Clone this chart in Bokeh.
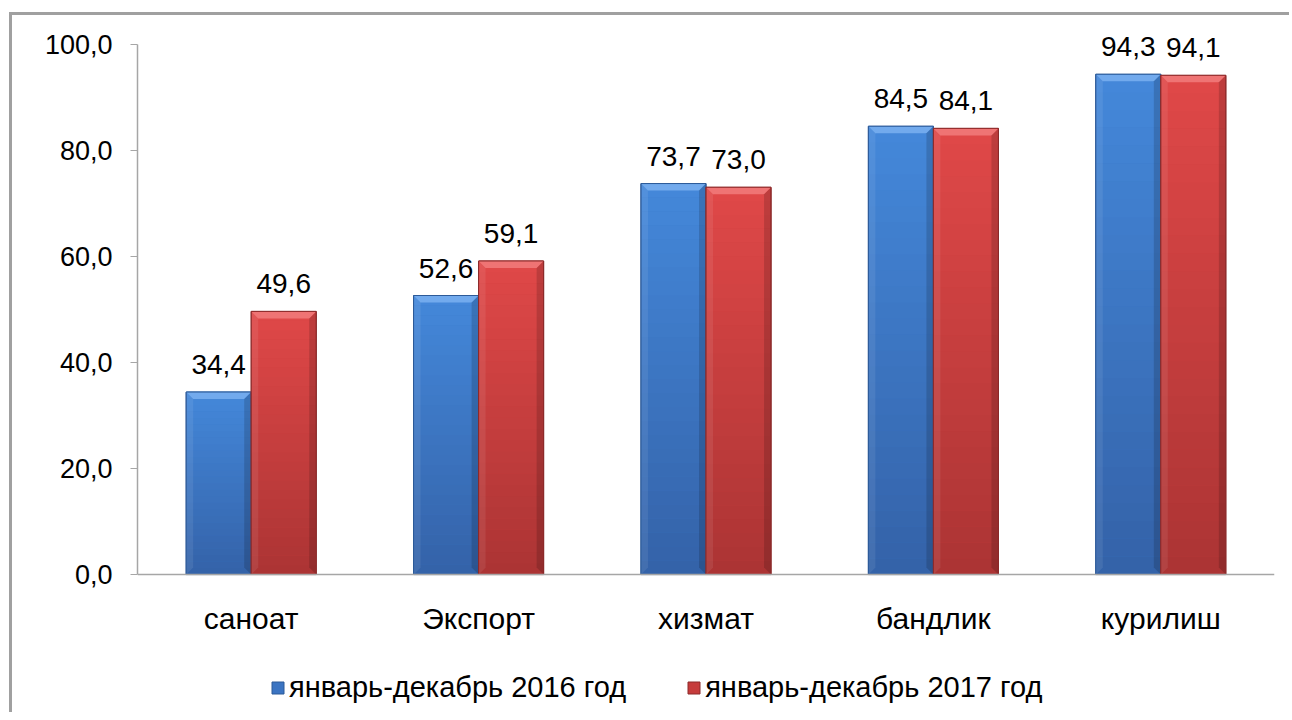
from bokeh.plotting import figure
from bokeh.models import (ColumnDataSource, Range1d, FixedTicker, LabelSet, Legend,
                          LegendItem, Span)
from bokeh.core.properties import value
from bokeh.embed import file_html
from bokeh.resources import INLINE

categories = ["саноат", "Экспорт", "хизмат", "бандлик", "курилиш"]
values_2016 = [34.4, 52.6, 73.7, 84.5, 94.3]
values_2017 = [49.6, 59.1, 73.0, 84.1, 94.1]
series_names = ["январь-декабрь 2016 год", "январь-декабрь 2017 год"]
y_ticks = [0, 20, 40, 60, 80, 100]

FONT = "Liberation Sans"
BAR_W = 0.286
N_SLICES = 28
AXIS_GRAY = "#a6a6a6"

styles = [
    dict(top="#4488da", bottom="#3462a8", mid="#3b74c2", edge="#2c5a98", bevel="#7ab0f0", offset=-BAR_W / 2),
    dict(top="#e04848", bottom="#ab3434", mid="#c63c3c", edge="#8c2a2a", bevel="#f27c7c", offset=BAR_W / 2),
]

# y range extends below 0 and above 100 so that the category labels, the legend
# and the value labels sit inside the plotting frame
p = figure(width=1280, height=700,
           x_range=Range1d(0, len(categories)), y_range=Range1d(-26, 105),
           x_axis_location=None,
           output_backend="svg", toolbar_location=None,
           min_border_left=125, min_border_right=18, min_border_top=2, min_border_bottom=3,
           margin=(12, 0, 0, 9))
p.styles = {"border-left": "3px solid #a0a0a0", "border-top": "3px solid #a0a0a0"}
p.background_fill_color = "white"
p.border_fill_color = "white"
p.outline_line_color = None
p.xgrid.visible = False
p.ygrid.visible = False

ya = p.yaxis[0]
ya.ticker = FixedTicker(ticks=y_ticks)
ya.bounds = (y_ticks[0], y_ticks[-1])
ya.major_label_overrides = {t: f"{t:.1f}".replace(".", ",") for t in y_ticks}
ya.minor_tick_line_color = None
ya.major_tick_in = 0
ya.major_tick_out = 7
ya.major_tick_line_color = AXIS_GRAY
ya.axis_line_color = AXIS_GRAY
ya.axis_line_width = 1.5
ya.major_label_standoff = 18
ya.major_label_text_font = FONT
ya.major_label_text_font_size = "27px"
ya.major_label_text_color = "#000000"

# category axis line at zero
p.add_layout(Span(location=0, dimension="width", line_color=AXIS_GRAY, line_width=1.5))


def lerp(c1, c2, t):
    a = [int(c1[i:i + 2], 16) for i in (1, 3, 5)]
    b = [int(c2[i:i + 2], 16) for i in (1, 3, 5)]
    return "#" + "".join(f"{round(a[k] + (b[k] - a[k]) * t):02x}" for k in range(3))


legend_items = []
px_x = 227.4  # approx pixels per category unit (for bevel sizing)
px_y = 5.305  # approx pixels per value unit
for series, st, name in zip([values_2016, values_2017], styles, series_names):
    xs = [i + 0.5 + st["offset"] for i in range(len(categories))]
    base = p.vbar(x=xs, top=series, bottom=0, width=BAR_W,
                  fill_color=st["mid"], line_color=st["edge"], line_width=1)
    # vertical gradient
    gx, gb, gt, gc = [], [], [], []
    for x, v in zip(xs, series):
        for k in range(N_SLICES):
            gx.append(x)
            gb.append(v * k / N_SLICES)
            gt.append(v * (k + 1) / N_SLICES + 0.05)
            gc.append(lerp(st["bottom"], st["top"], (k + 0.5) / N_SLICES))
    p.vbar(x=gx, bottom=gb, top=gt, width=BAR_W - 0.004, fill_color=gc, line_color=None)
    # bevels
    dx = 7 / px_x
    dy = 7 / px_y
    tx, ty, lx, ly, rx, ry = [], [], [], [], [], []
    for x, v in zip(xs, series):
        l, r = x - BAR_W / 2, x + BAR_W / 2
        tx.append([l, r, r - dx, l + dx]); ty.append([v, v, v - dy, v - dy])
        lx.append([l, l + dx, l + dx, l]); ly.append([v, v - dy, dy, 0])
        rx.append([r, r - dx, r - dx, r]); ry.append([v, v - dy, dy, 0])
    p.patches(tx, ty, fill_color=st["bevel"], fill_alpha=0.85, line_color=None)
    p.patches(lx, ly, fill_color="white", fill_alpha=0.08, line_color=None)
    p.patches(rx, ry, fill_color="black", fill_alpha=0.15, line_color=None)
    p.vbar(x=xs, top=series, bottom=0, width=BAR_W, fill_color=None,
           line_color=st["edge"], line_width=1)
    # data labels
    src = ColumnDataSource(dict(x=xs, y=series,
                                t=[f"{v:.1f}".replace(".", ",") for v in series]))
    p.add_layout(LabelSet(x="x", y="y", text="t", source=src, y_offset=18,
                          text_align="center", text_baseline="alphabetic",
                          text_font=value(FONT), text_font_size=value("28px"),
                          text_color=value("#000000")))
    legend_items.append(LegendItem(label=name, renderers=[base]))

# category labels under the zero line
cat_src = ColumnDataSource(dict(x=[i + 0.5 for i in range(len(categories))],
                                y=[0] * len(categories), t=categories))
p.add_layout(LabelSet(x="x", y="y", text="t", source=cat_src, y_offset=-54,
                      text_align="center", text_baseline="alphabetic",
                      text_font=value(FONT), text_font_size=value("30px"),
                      text_color=value("#000000")))

legend = Legend(items=legend_items, orientation="horizontal", location=(133, 8),
                glyph_width=15, glyph_height=15, label_standoff=4, spacing=60,
                padding=0, margin=0, border_line_color=None, background_fill_alpha=0,
                label_text_font=FONT, label_text_font_size="29px", label_text_color="#000000")
p.add_layout(legend, "center")

open("out.html", "w").write(file_html(p, INLINE))
